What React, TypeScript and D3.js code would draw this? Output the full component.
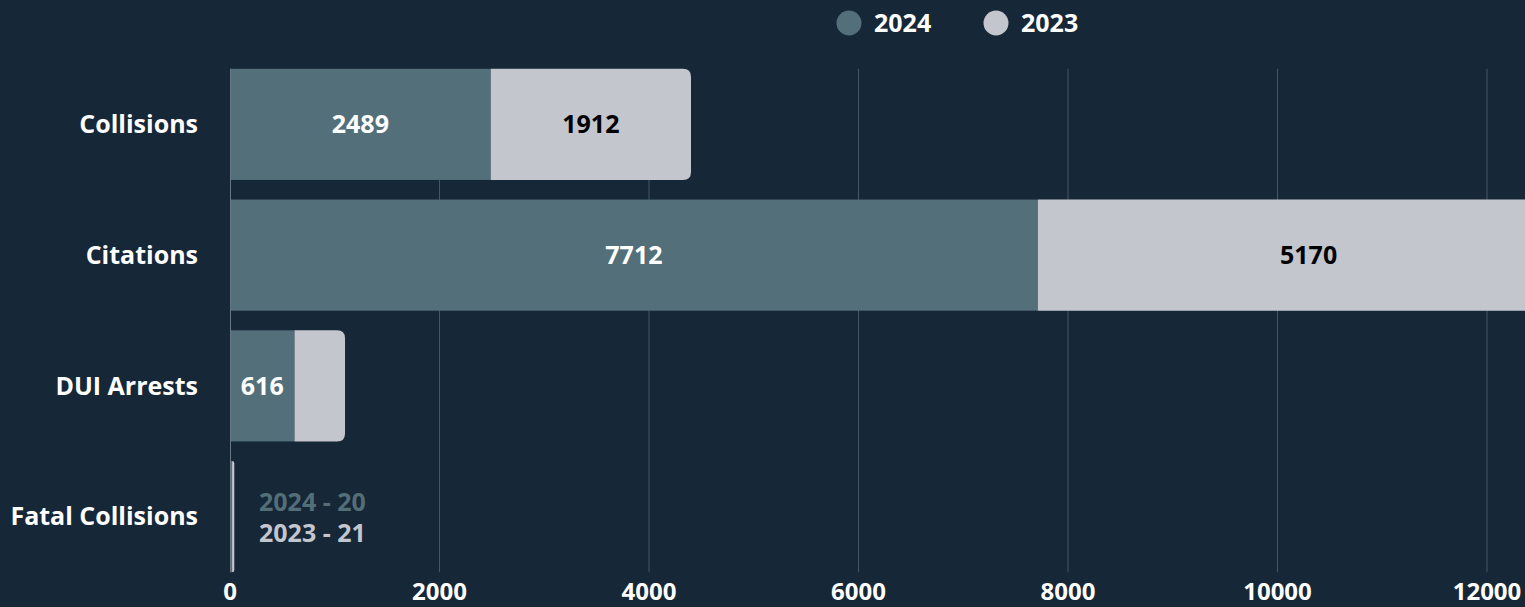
import React, { useEffect, useRef } from 'react';
import * as d3 from 'd3';

const categories = ['Collisions', 'Citations', 'DUI Arrests', 'Fatal Collisions'];
const series = ['2024', '2023'];
const values2024 = [2489, 7712, 616, 20];
const values2023 = [1912, 5170, 482, 21];
const xTicks = [0, 2000, 4000, 6000, 8000, 10000, 12000];

const colors: Record<string, string> = { '2024': '#536f7a', '2023': '#c4c6ce' };
const textColors: Record<string, string> = { '2024': '#ffffff', '2023': '#000000' };

const App: React.FC = () => {
  const svgRef = useRef<SVGSVGElement | null>(null);

  useEffect(() => {
    const width = 1525;
    const height = 607;
    const svg = d3.select(svgRef.current);
    svg.selectAll('*').remove();

    const font = "'Open Sans', 'Noto Sans', sans-serif";

    const x = d3.scaleLinear().domain([0, 12000]).range([230, 1487]);
    const y = d3.scaleBand().domain(categories).range([59, 582]).paddingInner(0.15).paddingOuter(0.075);
    const plotTop = y(categories[0])!;
    const plotBottom = y(categories[categories.length - 1])! + y.bandwidth();

    svg.append('rect').attr('width', width).attr('height', height).attr('fill', '#162737');

    // gridlines
    svg
      .append('g')
      .selectAll('line')
      .data(xTicks.slice(1))
      .join('line')
      .attr('x1', (d) => x(d))
      .attr('x2', (d) => x(d))
      .attr('y1', plotTop)
      .attr('y2', plotBottom)
      .attr('stroke', '#46566a')
      .attr('stroke-width', 1);

    // stacked data
    const rows = categories.map((c, i) => ({ category: c, '2024': values2024[i], '2023': values2023[i] }));
    const stacked = d3.stack<any>().keys(series)(rows);

    const r = 8;
    const roundedRight = (x0: number, x1: number, y0: number, h: number) => {
      const w = x1 - x0;
      const rr = Math.min(r, w, h / 2);
      return `M${x0},${y0}H${x1 - rr}Q${x1},${y0} ${x1},${y0 + rr}V${y0 + h - rr}Q${x1},${y0 + h} ${x1 - rr},${y0 + h}H${x0}Z`;
    };

    stacked.forEach((layer, li) => {
      const key = layer.key;
      const g = svg.append('g');
      layer.forEach((d: any) => {
        const cat = d.data.category;
        const y0 = y(cat)!;
        const h = y.bandwidth();
        const x0 = x(d[0]);
        const x1 = x(d[1]);
        if (li === series.length - 1) {
          g.append('path').attr('d', roundedRight(x0, x1, y0, h)).attr('fill', colors[key]);
        } else {
          g.append('rect').attr('x', x0).attr('y', y0).attr('width', x1 - x0).attr('height', h).attr('fill', colors[key]);
        }
        if (x1 - x0 > 55) {
          g.append('text')
            .attr('x', (x0 + x1) / 2)
            .attr('y', y0 + h / 2)
            .attr('dy', '0.35em')
            .attr('text-anchor', 'middle')
            .attr('font-family', font)
            .attr('font-weight', 700)
            .attr('font-size', 25)
            .attr('fill', textColors[key])
            .text(d.data[key]);
        }
      });
    });

    // small-bar annotation for Fatal Collisions
    const fatal = categories[3];
    const fy = y(fatal)! + y.bandwidth() / 2;
    series.forEach((s, i) => {
      svg
        .append('text')
        .attr('x', 259)
        .attr('y', fy + (i === 0 ? -6 : 25))
        .attr('font-family', font)
        .attr('font-weight', 700)
        .attr('font-size', 25)
        .attr('fill', s === '2024' ? '#546e78' : '#c4c6ce')
        .text(`${s} - ${s === '2024' ? values2024[3] : values2023[3]}`);
    });

    // y axis line
    svg
      .append('line')
      .attr('x1', 230.5)
      .attr('x2', 230.5)
      .attr('y1', plotTop)
      .attr('y2', plotBottom)
      .attr('stroke', '#6a7886')
      .attr('stroke-width', 1);

    // category labels
    svg
      .append('g')
      .selectAll('text')
      .data(categories)
      .join('text')
      .attr('x', 198)
      .attr('y', (d) => y(d)! + y.bandwidth() / 2)
      .attr('dy', '0.35em')
      .attr('text-anchor', 'end')
      .attr('font-family', font)
      .attr('font-weight', 700)
      .attr('font-size', 25)
      .attr('fill', '#ffffff')
      .text((d) => d);

    // x tick labels
    svg
      .append('g')
      .selectAll('text')
      .data(xTicks)
      .join('text')
      .attr('x', (d) => x(d))
      .attr('y', 600)
      .attr('text-anchor', 'middle')
      .attr('font-family', font)
      .attr('font-weight', 700)
      .attr('font-size', 24)
      .attr('fill', '#ffffff')
      .text((d) => d);

    // legend
    const legendX = [849, 996];
    series.forEach((s, i) => {
      const lg = svg.append('g').attr('transform', `translate(${legendX[i]},23)`);
      lg.append('circle').attr('r', 12.5).attr('fill', colors[s]);
      lg.append('text')
        .attr('x', 25)
        .attr('dy', '0.35em')
        .attr('font-family', font)
        .attr('font-weight', 700)
        .attr('font-size', 25)
        .attr('fill', '#ffffff')
        .text(s);
    });
  }, []);

  return (
    <svg
      ref={svgRef}
      width={1525}
      height={607}
      style={{ position: 'absolute', left: 0, top: 0, display: 'block' }}
    ></svg>
  );
};

export default App;
